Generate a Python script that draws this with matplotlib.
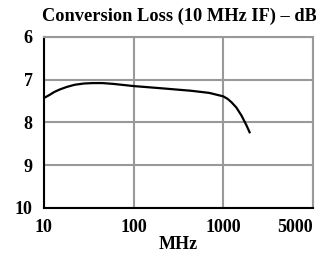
import matplotlib.pyplot as plt

# conversion loss
freq_mhz = [10, 11.7, 13, 15, 18, 22, 28, 35, 45, 60, 100, 200, 440, 700,
            1000, 1120, 1240, 1400, 1600, 1820, 1970]
loss_db = [7.43, 7.35, 7.29, 7.23, 7.17, 7.12, 7.09, 7.08, 7.08, 7.10, 7.15,
           7.20, 7.26, 7.31, 7.39, 7.45, 7.53, 7.65, 7.84, 8.07, 8.23]

x_ticks = [10, 100, 1000, 10000]
x_labels = ['10', '100', '1000', '5000']
y_ticks = [6, 7, 8, 9, 10]

plt.rcParams['font.family'] = ['Liberation Serif', 'DejaVu Serif']
plt.rcParams['font.weight'] = 'bold'

fig = plt.figure(figsize=(3.16, 2.58), dpi=100)
ax = fig.add_axes([0.139, 0.194, 0.851, 0.663])

ax.plot(freq_mhz, loss_db, color='black', linewidth=1.6, zorder=3)

ax.set_xscale('log')
ax.set_xlim(10, 10000)
ax.set_ylim(10, 6)
ax.set_xticks(x_ticks)
ax.set_xticklabels(x_labels)
ax.minorticks_off()
ax.set_yticks(y_ticks)
ax.grid(True, color='#999999', linewidth=1.5)
ax.tick_params(length=0, labelsize=13, pad=8)
for lbl in ax.get_xticklabels():
    lbl.set_fontweight('bold')
for lbl in ax.get_yticklabels():
    lbl.set_fontweight('bold')
ax.get_xticklabels()[-1].set_horizontalalignment('right')

for sp in ax.spines.values():
    sp.set_linewidth(1.5)
    sp.set_color('black')
ax.spines['top'].set_color('#999999')
ax.spines['right'].set_color('#999999')

ax.set_xlabel('MHz', fontsize=13, fontweight='bold', labelpad=0)
fig.text(0.568, 0.937, 'Conversion Loss (10 MHz IF) \u2013 dB', fontsize=13.2,
         fontweight='bold', ha='center', va='center')

fig.savefig('out.png', dpi=100)
